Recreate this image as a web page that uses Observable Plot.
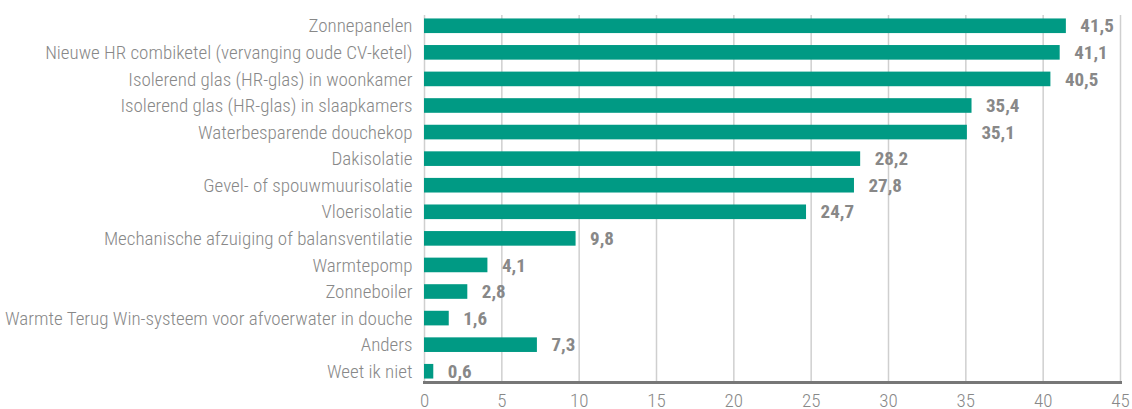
<!DOCTYPE html>
<html>
<head>
<meta charset="utf-8">
<script src="https://cdn.jsdelivr.net/npm/d3@7"></script>
<script src="https://cdn.jsdelivr.net/npm/@observablehq/plot@0.6"></script>
<style>
  html, body { margin: 0; padding: 0; background: #fff; }
  #chart svg { display: block; }
</style>
</head>
<body>
<div id="chart"></div>
<script>
const categories = [
  "Zonnepanelen",
  "Nieuwe HR combiketel (vervanging oude CV-ketel)",
  "Isolerend glas (HR-glas) in woonkamer",
  "Isolerend glas (HR-glas) in slaapkamers",
  "Waterbesparende douchekop",
  "Dakisolatie",
  "Gevel- of spouwmuurisolatie",
  "Vloerisolatie",
  "Mechanische afzuiging of balansventilatie",
  "Warmtepomp",
  "Zonneboiler",
  "Warmte Terug Win-systeem voor afvoerwater in douche",
  "Anders",
  "Weet ik niet"
];
const values = [41.5, 41.1, 40.5, 35.4, 35.1, 28.2, 27.8, 24.7, 9.8, 4.1, 2.8, 1.6, 7.3, 0.6];
const xTicks = [0, 5, 10, 15, 20, 25, 30, 35, 40, 45];

const data = categories.map((c, i) => ({label: c, value: values[i]}));
const fmt = v => v.toFixed(1).replace(".", ",");
const FONT = "'Roboto Condensed', 'Liberation Sans Narrow', 'DejaVu Sans Condensed', 'Arial Narrow', sans-serif";

const chart = Plot.plot({
  width: 1132,
  height: 409,
  marginTop: 15,
  marginBottom: 27,
  marginLeft: 424,
  marginRight: 12,
  style: {fontFamily: FONT, fontSize: "19px", color: "#888", background: "#fff"},
  x: {domain: [0, 45]},
  y: {domain: categories, paddingInner: 0.45, paddingOuter: 0.13, round: false, label: null},
  marks: [
    Plot.gridX(xTicks, {stroke: "#cfcfcf", strokeOpacity: 1, strokeWidth: 1.5}),
    Plot.barX(data, {x: "value", y: "label", fill: "#009a84"}),
    Plot.text(data, {x: "value", y: "label", text: d => fmt(d.value), dx: 14, textAnchor: "start", fontWeight: "bold", fill: "#888", fontSize: 19}),
    Plot.frame({anchor: "bottom", stroke: "#777", strokeWidth: 3}),
    Plot.axisX({ticks: xTicks, tickSize: 0, tickPadding: 11, label: null, fill: "#888", fontSize: 19, fontWeight: 300}),
    Plot.axisY({tickSize: 0, tickPadding: 12, label: null, fill: "#888", fontSize: 19, fontWeight: 300})
  ]
});
document.getElementById("chart").appendChild(chart);
</script>
</body>
</html>
